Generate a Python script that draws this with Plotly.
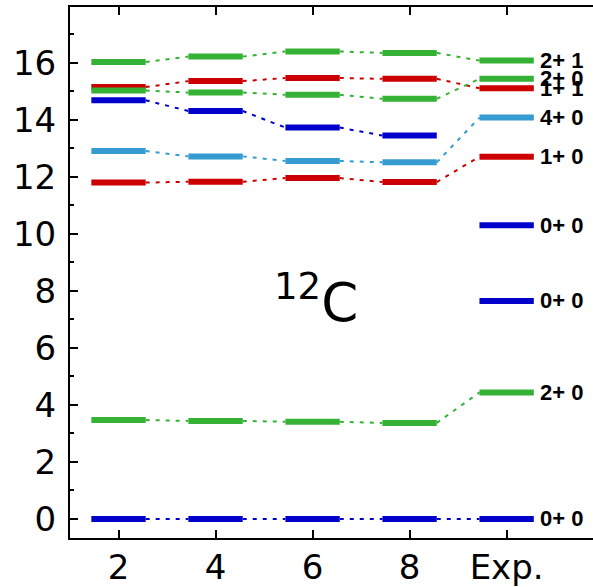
import plotly.graph_objects as go

categories = ["2", "4", "6", "8", "Exp."]

# level energies (MeV) per model space / experiment
lev_0p0_a = [0.0, 0.0, 0.0, 0.0, 0.0]
lev_2p0_a = [3.47, 3.44, 3.41, 3.37, 4.44]
lev_1p0 = [11.80, 11.83, 11.96, 11.82, 12.71]
lev_4p0 = [12.91, 12.72, 12.56, 12.51, 14.08]
lev_0p0_b = [14.69, 14.31, 13.73, 13.45, None]
lev_2p0_b = [15.03, 14.96, 14.88, 14.74, 15.44]
lev_1p1 = [15.15, 15.36, 15.47, 15.44, 15.11]
lev_2p1 = [16.03, 16.22, 16.40, 16.35, 16.08]
exp_extra_0p0 = [7.65, 10.30]

exp_labels = ["2+ 1", "2+ 0", "1+ 1", "4+ 0", "1+ 0", "0+ 0", "0+ 0", "2+ 0", "0+ 0"]
exp_label_levels = [16.08, 15.44, 15.11, 14.08, 12.71, 10.30, 7.65, 4.44, 0.0]

GREEN = "rgb(53,178,53)"
RED = "rgb(204,0,0)"
BLUE = "rgb(0,0,204)"
LBLUE = "rgb(54,155,208)"

HW = 0.28  # half width of level bar

series = [
    (lev_0p0_a, BLUE),
    (lev_2p0_a, GREEN),
    (lev_1p1, RED),
    (lev_1p0, RED),
    (lev_4p0, LBLUE),
    (lev_0p0_b, BLUE),
    (lev_2p0_b, GREEN),
    (lev_2p1, GREEN),
]

fig = go.Figure()

for vals, col in series:
    cx, cy = [], []
    for i in range(len(vals) - 1):
        if vals[i] is None or vals[i + 1] is None:
            continue
        cx += [i + HW, i + 1 - HW, None]
        cy += [vals[i], vals[i + 1], None]
    fig.add_trace(go.Scatter(x=cx, y=cy, mode="lines",
                             line=dict(color=col, width=2, dash="4px,6px"),
                             hoverinfo="skip", showlegend=False))
    bx, by = [], []
    for i, v in enumerate(vals):
        if v is None:
            continue
        bx += [i - HW, i + HW, None]
        by += [v, v, None]
    fig.add_trace(go.Scatter(x=bx, y=by, mode="lines",
                             line=dict(color=col, width=6),
                             hoverinfo="skip", showlegend=False))

ex, ey = [], []
for v in exp_extra_0p0:
    ex += [4 - HW, 4 + HW, None]
    ey += [v, v, None]
fig.add_trace(go.Scatter(x=ex, y=ey, mode="lines", line=dict(color=BLUE, width=6),
                         hoverinfo="skip", showlegend=False))

for lab, v in zip(exp_labels, exp_label_levels):
    fig.add_annotation(x=4 + HW, y=v, text=lab, showarrow=False, xanchor="left",
                       yanchor="middle", xshift=4,
                       font=dict(family="Liberation Sans", size=22, color="black", weight="bold"))

fig.add_annotation(x=2.04, y=7.7, text="<sup>12</sup>C", showarrow=False,
                   font=dict(family="DejaVu Sans", size=53, color="black"))

fig.update_layout(
    width=593, height=587,
    margin=dict(l=70, r=0, t=7, b=49),
    paper_bgcolor="white", plot_bgcolor="white",
    font=dict(family="DejaVu Sans", color="black"),
)
fig.update_xaxes(
    range=[-0.5, 4.89], tickvals=list(range(len(categories))), ticktext=categories,
    ticks="inside", ticklen=8, tickwidth=2, tickcolor="black",
    showline=True, linewidth=2, linecolor="black", mirror="ticks",
    showgrid=False, zeroline=False, tickfont=dict(size=34, family="DejaVu Sans"),
    ticklabelstandoff=-2,
)
fig.update_yaxes(
    range=[-0.667, 17.96], tickvals=list(range(0, 17, 2)),
    ticks="inside", ticklen=8, tickwidth=2, tickcolor="black",
    minor=dict(dtick=1, ticks="inside", ticklen=4, tickwidth=2, tickcolor="black", showgrid=False),
    showline=True, linewidth=2, linecolor="black",
    showgrid=False, zeroline=False, tickfont=dict(size=34, family="DejaVu Sans"),
    ticklabelstandoff=5,
)

fig.write_html("out.html")
